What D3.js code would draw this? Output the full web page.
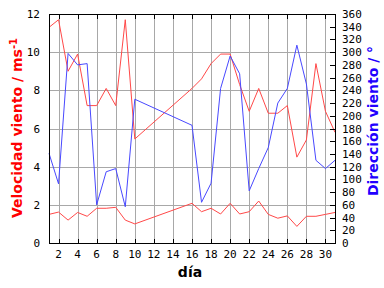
<!DOCTYPE html>
<html><head><meta charset="utf-8">
<script src="https://cdn.jsdelivr.net/npm/d3@7"></script>
<style>body{margin:0;background:#fff}svg{display:block}</style>
</head><body>
<script>
const days = d3.range(1, 32);
// missing days 11-15 (line joins day 10 to day 16)
const dayIdx = [1,2,3,4,5,6,7,8,9,10,16,17,18,19,20,21,22,23,24,25,26,27,28,29,30,31];
const speedMax = [11.3,11.7,9.0,9.9,7.2,7.2,8.1,7.2,11.7,5.45,8.1,8.6,9.4,9.9,9.9,8.3,6.9,8.1,6.8,6.8,7.2,4.5,5.4,9.4,6.9,5.8];
const speedMean = [1.5,1.62,1.2,1.6,1.4,1.82,1.82,1.87,1.2,1.0,2.08,1.64,1.82,1.52,2.08,1.52,1.64,2.2,1.5,1.3,1.42,0.87,1.4,1.4,1.5,1.6];
const direction = [141,93,298,280,282,60,112,117,57,226,185,64,94,243,294,266,82,117,150,220,243,311,250,130,117,130];
const xTicks = d3.range(2, 31, 2);
const ySpeedTicks = d3.range(0, 13, 2);
const yDirTicks = d3.range(0, 361, 20);

const W = 384, H = 288;
const L = 49, R = 335, T = 14, B = 243;
const svg = d3.select("body").append("svg").attr("width", W).attr("height", H);
const x = d3.scaleLinear().domain([1, 31]).range([L, R]);
const y = d3.scaleLinear().domain([0, 12]).range([B, T]);
const yd = d3.scaleLinear().domain([0, 360]).range([B, T]);
const font = "'DejaVu Sans Mono', monospace";

// grid
const g = svg.append("g");
g.selectAll(".vg").data(xTicks).enter().append("line")
  .attr("x1", d => Math.round(x(d)) + 0.5).attr("x2", d => Math.round(x(d)) + 0.5)
  .attr("y1", T).attr("y2", B).attr("stroke", "#a8a8a8").attr("stroke-width", 1);
g.selectAll(".hg").data(ySpeedTicks.filter(d => d > 0 && d < 12)).enter().append("line")
  .attr("y1", d => Math.round(y(d)) + 0.5).attr("y2", d => Math.round(y(d)) + 0.5)
  .attr("x1", L).attr("x2", R).attr("stroke", "#a8a8a8").attr("stroke-width", 1);

// lines
const lineS = vals => d3.line().x((d, i) => x(dayIdx[i])).y(d => y(d))(vals);
const lineD = d3.line().x((d, i) => x(dayIdx[i])).y(d => yd(d));
svg.append("path").attr("d", lineS(speedMax)).attr("fill", "none").attr("stroke", "#ff4848").attr("stroke-width", 1);
svg.append("path").attr("d", lineS(speedMean)).attr("fill", "none").attr("stroke", "#ff4848").attr("stroke-width", 1);
svg.append("path").attr("d", lineD(direction)).attr("fill", "none").attr("stroke", "#4848ff").attr("stroke-width", 1);

// frame
svg.append("rect").attr("x", L + 0.5).attr("y", T + 0.5).attr("width", R - L).attr("height", B - T)
  .attr("fill", "none").attr("stroke", "#000").attr("stroke-width", 1);

// x ticks top and bottom
xTicks.forEach(d => {
  const xx = Math.round(x(d)) + 0.5;
  svg.append("line").attr("x1", xx).attr("x2", xx).attr("y1", T).attr("y2", T + 5).attr("stroke", "#000");
  svg.append("line").attr("x1", xx).attr("x2", xx).attr("y1", B - 4).attr("y2", B + 1).attr("stroke", "#000");
});
// right ticks
yDirTicks.forEach(d => {
  const yy = Math.round(yd(d)) + 0.5;
  svg.append("line").attr("x1", R - 5).attr("x2", R + 1).attr("y1", yy).attr("y2", yy).attr("stroke", "#000");
});

// tick labels
svg.selectAll(".xl").data(xTicks).enter().append("text")
  .attr("x", d => x(d)).attr("y", 258).attr("text-anchor", "middle")
  .attr("font-family", font).attr("font-size", 11).text(d => d);
svg.selectAll(".yl").data(ySpeedTicks).enter().append("text")
  .attr("x", 40).attr("y", d => y(d) + 4).attr("text-anchor", "end")
  .attr("font-family", font).attr("font-size", 11).text(d => d);
svg.selectAll(".dl").data(yDirTicks).enter().append("text")
  .attr("x", 342).attr("y", d => yd(d) + 4).attr("text-anchor", "start")
  .attr("font-family", font).attr("font-size", 11).text(d => d);

// axis titles
svg.append("text").attr("x", 190).attr("y", 277).attr("text-anchor", "middle")
  .attr("font-family", "'DejaVu Sans', sans-serif").attr("font-weight", "bold").attr("font-size", 14).text("día");
const lt = svg.append("text").attr("transform", "translate(22,128) rotate(-90)").attr("text-anchor", "middle")
  .attr("font-family", "'DejaVu Sans', sans-serif").attr("font-weight", "bold").attr("font-size", 14).attr("fill", "#ff0000");
lt.append("tspan").text("Velocidad viento / ms");
lt.append("tspan").attr("dy", -5).attr("font-size", 10).text("-1");
svg.append("text").attr("transform", "translate(378,121) rotate(-90)").attr("text-anchor", "middle")
  .attr("font-family", "'DejaVu Sans', sans-serif").attr("font-weight", "bold").attr("font-size", 14).attr("fill", "#2200ff")
  .text("Dirección viento / °");
</script>
</body></html>
